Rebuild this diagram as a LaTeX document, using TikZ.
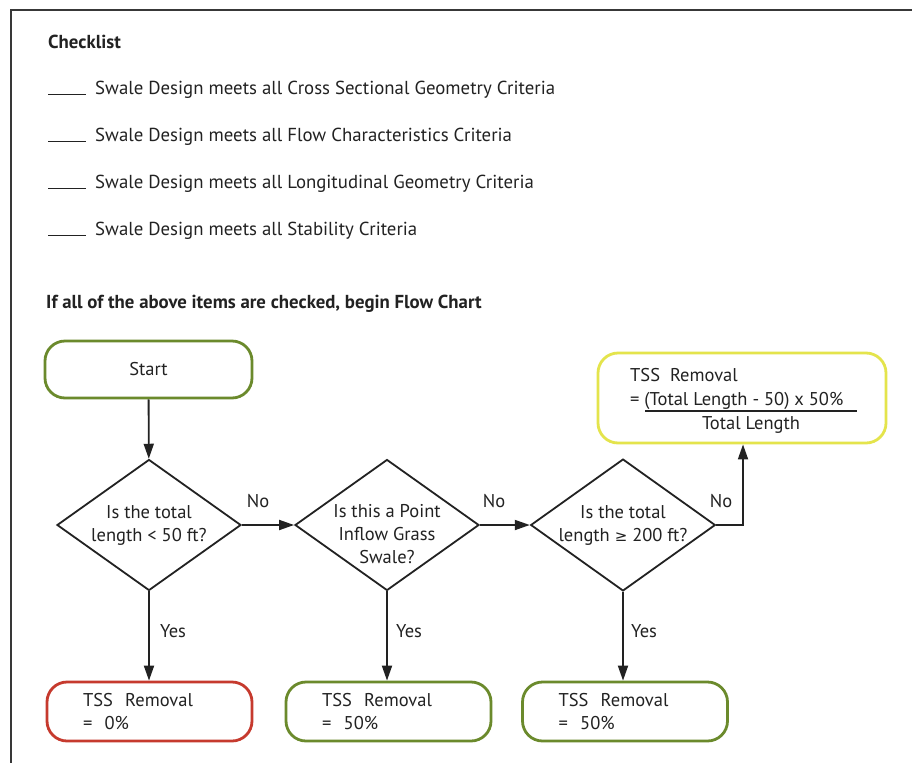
\documentclass[tikz,border=0pt]{standalone}
\usepackage{fontspec}
\setmainfont{PT Sans}
\newfontfamily\symfont{DejaVu Sans}
\usetikzlibrary{shapes.geometric,arrows.meta}
\definecolor{boxgreen}{HTML}{6B8A2C}
\definecolor{boxred}{HTML}{C63A2E}
\definecolor{boxyellow}{HTML}{E4E44C}
\definecolor{ink}{HTML}{222222}
\tikzset{
  frame/.style={draw=ink!90, line width=2pt},
  txt/.style={inner sep=0pt, text=ink, font=\fontsize{18.8}{22}\selectfont},
  head/.style={inner sep=0pt, text=ink, font=\fontsize{18.8}{22}\selectfont\bfseries},
  box/.style={draw, rounded corners=20pt, line width=2.8pt, inner sep=0pt, text=ink,
    font=\fontsize{18.5}{23.5}\selectfont},
  startbox/.style={box, draw=boxgreen, minimum width=207pt, minimum height=57pt},
  resbox/.style={box, minimum height=59pt, text width=133pt, inner xsep=36pt, align=left},
  diam/.style={diamond, draw=ink, line width=1.8pt, minimum width=184pt, minimum height=131pt,
    inner sep=0pt, aspect=1.4, text=ink, align=center, font=\fontsize{18.5}{23}\selectfont},
  dtext/.style={inner sep=0pt, text=ink, align=center, font=\fontsize{18.5}{23}\selectfont},
  flow/.style={draw=ink, line width=1.8pt, -{Triangle[length=15pt,width=10pt]}},
  lbl/.style={inner sep=0pt, text=ink, font=\fontsize{18.5}{22}\selectfont},
  ytxt/.style={inner sep=0pt, text=ink, font=\fontsize{18.5}{22}\selectfont}
}
\begin{document}
\begin{tikzpicture}[x=1pt,y=-1pt]
\useasboundingbox (0,0) rectangle (912,763);
\fill[white] (0,0) rectangle (912,763);
\draw[frame] (912,10) -- (11,10) -- (11,763);

% checklist
\node[head, anchor=base west] (chk) at (48,48) {Checklist};
\node[txt, anchor=base west] (c1) at (48,94) {\rule[-1pt]{38pt}{1pt}\hspace{9pt}Swale Design meets all Cross Sectional Geometry Criteria};
\node[txt, anchor=base west] (c2) at (48,141) {\rule[-1pt]{38pt}{1pt}\hspace{9pt}Swale Design meets all Flow Characteristics Criteria};
\node[txt, anchor=base west] (c3) at (48,188) {\rule[-1pt]{38pt}{1pt}\hspace{9pt}Swale Design meets all Longitudinal Geometry Criteria};
\node[txt, anchor=base west] (c4) at (48,235) {\rule[-1pt]{38pt}{1pt}\hspace{9pt}Swale Design meets all Stability Criteria};
\node[head, anchor=base west] (intro) at (46,308) {If all of the above items are checked, begin Flow Chart};

% flow chart
\node[startbox] (start) at (148.5,369.5) {Start};
\node[diam] (d1) at (149,525) {Is the total\\length < 50 ft?};
\node[diam] (d2) at (387,525) {};
\node[dtext] (t2) at (387,534) {Is this a Point\\Inflow Grass\\Swale?};
\node[diam] (d3) at (623,525) {Is the total\\length {\symfont\fontsize{15}{23}\selectfont ≥} 200 ft?};

\node[resbox, draw=boxred] (r1) at (149.5,711.5) {TSS\ \ Removal\\=\ \ 0\%};
\node[resbox, draw=boxgreen] (r2) at (388.5,711.5) {TSS\ \ Removal\\=\ \ 50\%};
\node[resbox, draw=boxgreen] (r3) at (625,711.5) {TSS\ \ Removal\\=\ \ 50\%};

\node[box, draw=boxyellow, minimum width=288pt, minimum height=90pt] (y) at (742,398) {};
\node[ytxt, anchor=base west] (y1) at (630,381) {TSS\ \ Removal};
\node[ytxt, anchor=base west] (y2) at (630,405) {= (Total Length - 50) x 50\%};
\node[ytxt, anchor=base] (y3) at (751,429) {Total Length};
\draw[draw=ink, line width=1.3pt] (645,411) -- (857,411);

% connectors
\draw[flow] (start) -- (d1);
\draw[flow] (d1) -- (d2);
\draw[flow] (d2) -- (d3);
\coordinate (bend) at (743,525);
\draw[flow] (d3.east) -- (bend) -- (bend |- y.south);
\draw[flow] (d1) -- (d1.south |- r1.north);
\draw[flow] (d2) -- (d2.south |- r2.north);
\draw[flow] (d3) -- (d3.south |- r3.north);

\node[lbl] (n1) at (258,501) {No};
\node[lbl] (n2) at (494,501) {No};
\node[lbl] (n3) at (721,501) {No};
\node[lbl] (s1) at (173,631) {Yes};
\node[lbl] (s2) at (409,631) {Yes};
\node[lbl] (s3) at (644,631) {Yes};
\end{tikzpicture}
\end{document}
